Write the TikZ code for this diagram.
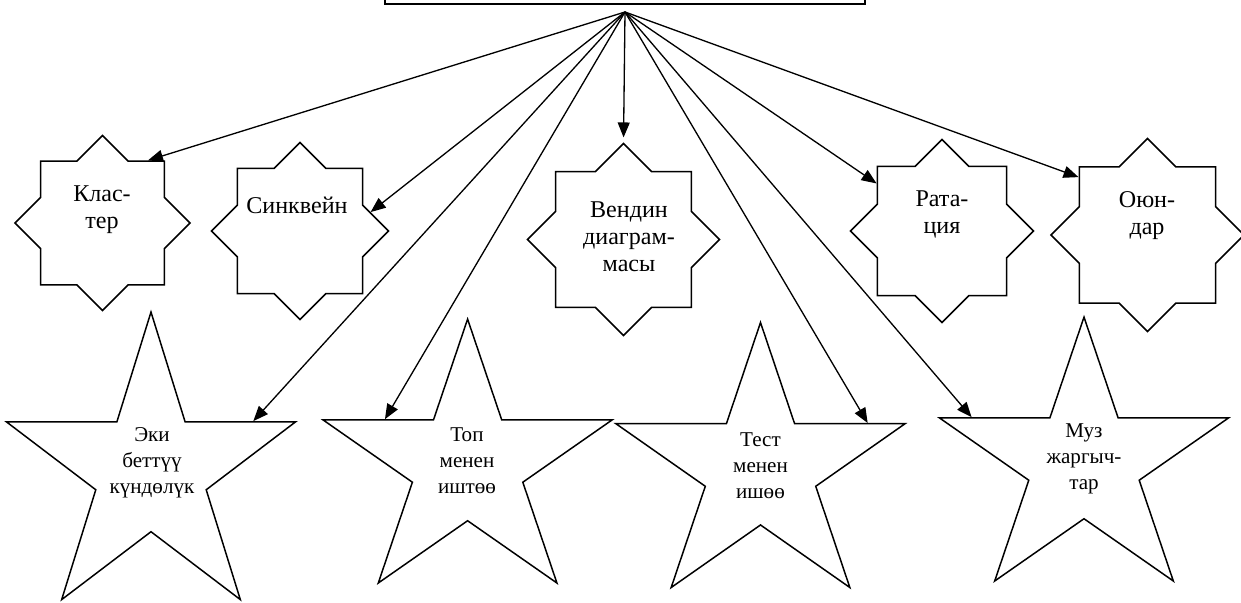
\documentclass[tikz,border=0pt]{standalone}
\usepackage{fontspec}
\setmainfont{Liberation Serif}
\usetikzlibrary{shapes.geometric,arrows.meta}
\begin{document}
\begin{tikzpicture}[x=0.02cm,y=0.02cm,>={Triangle[length=3mm,width=2.4mm]},
  octa/.style={draw,star,star points=8,star point ratio=1.307,inner sep=0pt,line width=0.85pt},
  penta/.style={draw,star,star points=5,star point ratio=2.618,inner sep=0pt,minimum size=6.08cm,line width=0.85pt},
  otxt/.style={align=center,inner sep=0pt,font=\fontsize{13.7}{15.4}\selectfont},
  ptxt/.style={align=center,inner sep=0pt,font=\fontsize{12}{14.8}\selectfont},
  link/.style={->,line width=0.75pt}]
  \useasboundingbox (0,0) rectangle (1241,602);
  \clip (0,0) rectangle (1241,602);
  % top box, cut by the page edge
  \node[draw,line width=1.4pt,minimum width=9.6cm,minimum height=1cm] (goal) at (625,623) {};
  \coordinate (hub) at (625,590);
  % eight-point stars
  \node[octa,minimum size=3.5cm] (klaster) at (102.5,379) {};
  \node[octa,minimum size=3.54cm] (sinkvein) at (300,371) {};
  \node[octa,minimum size=3.84cm] (venn) at (623.5,362.5) {};
  \node[octa,minimum size=3.66cm] (rataciya) at (942,371) {};
  \node[octa,minimum size=3.86cm] (oyundar) at (1147.5,367) {};
  \node[otxt] (klaster-t) at (102,392) {Клас-\\тер};
  \node[otxt] (sinkvein-t) at (297,397) {Синквейн};
  \node[otxt] (venn-t) at (629,365) {Вендин\\диаграм-\\масы};
  \node[otxt] (rataciya-t) at (942,388) {Рата-\\ция};
  \node[otxt] (oyundar-t) at (1147,386) {Оюн-\\дар};
  % five-point stars
  \node[penta,yscale=1.046] (eki) at (151,131) {};
  \node[penta,yscale=0.96] (topish) at (467.6,137) {};
  \node[penta,yscale=0.964] (testish) at (760.5,133) {};
  \node[penta,yscale=0.96] (muz) at (1084,139) {};
  \node[ptxt] (eki-t) at (152,139) {Эки\\беттүү\\күндөлүк};
  \node[ptxt] (topish-t) at (467,141) {Топ\\менен\\иштөө};
  \node[ptxt] (testish-t) at (760.5,136) {Тест\\менен\\ишөө};
  \node[ptxt] (muz-t) at (1084,143) {Муз\\жаргыч-\\тар};
  % arrows
  \draw[link] (hub) -- (klaster.54);
  \draw[link] (hub) -- (sinkvein.15);
  \draw[link,shorten >=0.1cm] (hub) -- (venn.north);
  \draw[link] (hub) -- (rataciya.144);
  \draw[link] (hub) -- (oyundar.140);
  \draw[link] (hub) -- (eki.25);
  \draw[link] (hub) -- (topish.150);
  \draw[link] (hub) -- (testish.24);
  \draw[link] (hub) -- (muz.157);
\end{tikzpicture}
\end{document}
